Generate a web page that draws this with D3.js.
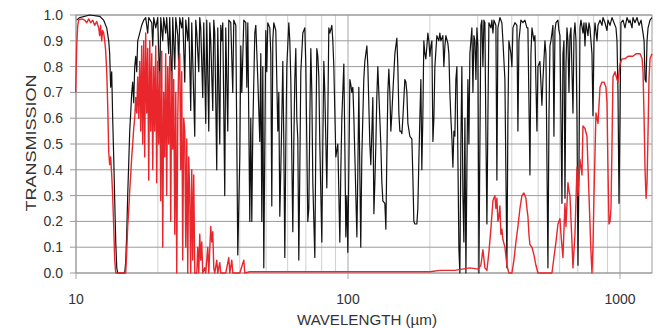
<!DOCTYPE html>
<html>
<head>
<meta charset="utf-8">
<script src="https://cdn.jsdelivr.net/npm/d3@7"></script>
<style>
  body { margin: 0; background: #fff; }
  text { font-family: "Liberation Sans", Arial, sans-serif; fill: #333; }
</style>
</head>
<body>
<svg id="chart" width="658" height="328"></svg>
<script>
// axis ticks
const yTicks = [0, 0.1, 0.2, 0.3, 0.4, 0.5, 0.6, 0.7, 0.8, 0.9, 1.0]
const xLabels = [10, 100, 1000]
const xGrid = [10, 20, 30, 40, 50, 60, 70, 80, 90, 100, 200, 300, 400, 500, 600, 700, 800, 900, 1000]

// black curve: wavelength (um) / transmission
const blackWl = [10.06, 10.32, 11.23, 12.22, 12.64, 12.97, 13.19, 13.30, 13.41, 13.53, 13.64, 13.76, 13.88, 14.00, 14.12, 14.24,
  15.10, 15.23, 15.36, 15.49, 15.62, 15.76, 15.89, 16.03, 16.16, 16.30, 16.44, 16.58, 16.72, 16.86, 17.15, 17.44, 17.74, 18.04,
  18.35, 18.51, 18.99, 19.15, 19.31, 19.64, 19.97, 20.32, 20.49, 20.84, 21.01, 21.37, 21.55, 21.92, 22.11, 22.49, 22.68, 23.07,
  23.27, 23.67, 23.86, 24.06, 24.47, 24.68, 25.11, 25.32, 25.75, 25.97, 26.41, 26.64, 27.33, 27.56, 27.80, 28.27, 28.51, 28.75,
  29.24, 29.49, 29.99, 30.25, 30.77, 31.03, 31.29, 31.83, 32.10, 32.37, 32.92, 33.20, 33.77, 34.06, 34.35, 34.64, 35.23, 35.53,
  36.14, 36.45, 37.07, 37.70, 38.02, 38.68, 39.34, 40.01, 40.35, 40.69, 41.39, 42.10, 42.46, 42.82, 43.54, 43.91, 44.29, 44.66,
  45.43, 45.82, 46.60, 47.39, 47.80, 48.20, 48.61, 49.02, 49.86, 50.28, 50.71, 51.58, 52.02, 52.46, 52.91, 53.36, 54.27, 55.20,
  55.67, 56.14, 56.62, 57.10, 57.59, 58.08, 58.57, 59.07, 59.57, 60.59, 61.10, 61.62, 62.67, 63.20, 63.74, 64.28, 64.83, 65.38,
  65.94, 66.50, 67.07, 68.21, 69.38, 69.97, 71.16, 71.77, 72.38, 73.00, 73.62, 74.24, 75.51, 76.15, 76.80, 77.45, 78.11, 78.78,
  80.12, 80.80, 81.49, 82.18, 83.58, 84.29, 85.01, 85.74, 87.20, 87.94, 88.69, 90.21, 91.75, 93.32, 94.11, 94.91, 96.53, 97.35,
  98.18, 99.01, 99.85, 100.7, 101.6, 102.4, 103.3, 104.2, 105.1, 106.0, 107.8, 108.7, 109.6, 110.5, 111.4, 112.4, 114.3, 115.3,
  117.3, 118.3, 120.3, 121.3, 122.4, 123.4, 124.5, 125.5, 126.6, 127.6, 128.7, 129.8, 132.0, 133.2, 134.3, 136.6, 137.8, 138.9,
  140.1, 141.3, 142.5, 143.7, 145.0, 146.2, 148.7, 151.2, 152.5, 153.8, 155.1, 156.4, 157.8, 159.1, 161.8, 163.2, 164.6, 166.0,
  168.8, 171.7, 173.2, 174.6, 176.1, 179.1, 180.6, 182.2, 183.7, 185.3, 186.8, 188.4, 190.0, 191.7, 193.3, 195.0, 196.6, 198.3,
  200.0, 201.7, 203.4, 205.2, 206.9, 208.6, 212.2, 215.8, 217.6, 219.5, 223.2, 225.1, 227.1, 229.0, 232.9, 234.9, 236.9, 238.9,
  241.0, 243.0, 245.1, 247.1, 249.2, 251.4, 253.5, 255.7, 257.8, 260.0, 262.2, 264.5, 266.7, 269.0, 271.3, 273.6, 275.9, 278.3,
  280.6, 283.0, 285.4, 287.9, 290.3, 292.8, 295.3, 297.8, 300.3, 302.9, 305.4, 308.0, 310.6, 313.3, 316.0, 318.6, 321.3, 324.1,
  326.8, 329.6, 335.2, 338.1, 341.0, 343.9, 349.7, 352.7, 355.7, 361.8, 367.9, 371.1, 377.4, 383.9, 387.1, 390.4, 397.1, 400.5,
  403.9, 410.8, 417.8, 421.4, 425.0, 432.2, 439.6, 447.1, 454.8, 458.6, 466.5, 470.5, 474.5, 482.6, 486.7, 495.0, 499.2, 507.7,
  516.4, 520.8, 529.7, 534.2, 543.3, 548.0, 552.6, 557.3, 566.8, 571.6, 576.5, 581.4, 591.3, 596.3, 601.5, 606.6, 611.7, 616.9,
  622.2, 627.5, 632.8, 638.2, 643.6, 649.1, 654.6, 660.2, 671.5, 677.2, 683.0, 688.8, 694.7, 700.6, 706.5, 712.5, 718.6, 730.9,
  737.1, 743.4, 749.7, 762.5, 769.0, 775.5, 788.7, 795.4, 802.2, 809.1, 822.9, 829.9, 844.1, 858.5, 865.8, 880.6, 895.6, 903.2,
  918.7, 934.4, 950.3, 966.6, 974.8, 983.1, 991.5, 1000, 1008, 1026, 1043, 1061, 1079, 1088, 1107, 1116, 1135, 1155, 1175, 1195,
  1215, 1226, 1236, 1247, 1257, 1268, 1289, 1311]
const blackT = [0.98, 0.99, 1.0, 0.995, 0.98, 0.95, 0.9, 0.85, 0.72, 0.78, 0.6, 0.45, 0.28, 0.12, 0.02, 0.0,
  0.0, 0.04, 0.15, 0.3, 0.42, 0.55, 0.62, 0.7, 0.74, 0.66, 0.8, 0.84, 0.78, 0.9, 0.93, 0.96, 0.98, 0.99,
  0.93, 0.99, 0.97, 0.88, 0.99, 0.95, 0.99, 0.72, 0.99, 0.9, 0.99, 0.93, 0.99, 0.85, 0.99, 0.7, 0.99, 0.79,
  0.99, 0.92, 0.8, 0.99, 0.95, 0.99, 0.74, 0.98, 0.9, 0.99, 0.63, 0.97, 0.53, 0.98, 0.93, 0.78, 0.99, 0.95,
  0.68, 0.97, 0.58, 0.98, 0.55, 0.97, 0.9, 0.63, 0.98, 0.93, 0.4, 0.95, 0.5, 0.96, 0.9, 0.97, 0.3, 0.95,
  0.55, 0.98, 0.97, 0.7, 0.98, 0.96, 0.07, 0.45, 0.88, 0.7, 0.98, 0.97, 0.72, 0.97, 0.2, 0.6, 0.2, 0.55,
  0.93, 0.96, 0.75, 0.51, 0.85, 0.2, 0.8, 0.02, 0.94, 0.78, 0.97, 0.95, 0.85, 0.26, 0.9, 0.97, 0.94, 0.55,
  0.7, 0.22, 0.4, 0.6, 0.82, 0.5, 0.06, 0.5, 0.8, 0.97, 0.9, 0.75, 0.16, 0.5, 0.75, 0.87, 0.6, 0.52,
  0.05, 0.4, 0.78, 0.93, 0.95, 0.8, 0.2, 0.25, 0.6, 0.87, 0.7, 0.35, 0.06, 0.5, 0.87, 0.84, 0.76, 0.5,
  0.12, 0.5, 0.82, 0.7, 0.33, 0.6, 0.95, 0.93, 0.96, 0.9, 0.8, 0.45, 0.5, 0.12, 0.4, 0.6, 0.81, 0.5,
  0.14, 0.3, 0.08, 0.4, 0.75, 0.73, 0.7, 0.72, 0.6, 0.45, 0.14, 0.4, 0.72, 0.4, 0.1, 0.45, 0.75, 0.82,
  0.88, 0.8, 0.5, 0.42, 0.55, 0.68, 0.23, 0.35, 0.5, 0.68, 0.8, 0.7, 0.5, 0.35, 0.28, 0.27, 0.17, 0.45,
  0.7, 0.79, 0.7, 0.55, 0.62, 0.7, 0.85, 0.91, 0.8, 0.62, 0.55, 0.55, 0.54, 0.6, 0.75, 0.74, 0.7, 0.58,
  0.53, 0.52, 0.37, 0.2, 0.19, 0.19, 0.25, 0.44, 0.6, 0.75, 0.4, 0.6, 0.9, 0.85, 0.83, 0.88, 0.93, 0.9,
  0.84, 0.88, 0.9, 0.51, 0.6, 0.8, 0.92, 0.9, 0.93, 0.9, 0.92, 0.8, 0.88, 0.92, 0.89, 0.85, 0.7, 0.6,
  0.52, 0.41, 0.55, 0.53, 0.75, 0.8, 0.45, 0.09, 0.0, 0.5, 0.8, 0.3, 0.12, 0.6, 0.0, 0.4, 0.75, 0.5,
  0.85, 0.9, 0.95, 0.7, 0.92, 0.9, 0.75, 0.95, 0.88, 0.0, 0.5, 0.96, 0.98, 0.8, 0.98, 0.97, 0.55, 0.19,
  0.6, 0.97, 0.95, 0.98, 0.93, 0.98, 0.96, 0.36, 0.95, 0.99, 0.97, 0.9, 0.75, 0.02, 0.6, 0.9, 0.85, 0.8,
  0.95, 0.97, 0.96, 0.55, 0.9, 0.98, 0.97, 0.98, 0.95, 0.95, 0.38, 0.85, 0.95, 0.9, 0.92, 0.55, 0.8, 0.82,
  0.65, 0.75, 0.9, 0.85, 0.02, 0.6, 0.88, 0.9, 0.96, 0.53, 0.94, 0.97, 0.98, 0.94, 0.92, 0.6, 0.27, 0.85,
  0.9, 0.29, 0.8, 0.95, 0.9, 0.7, 0.92, 0.95, 0.62, 0.92, 0.97, 0.9, 0.6, 0.03, 0.4, 0.95, 0.98, 0.93,
  0.97, 0.88, 0.97, 0.92, 0.97, 0.95, 0.85, 0.61, 0.9, 0.97, 0.9, 0.96, 0.98, 0.96, 0.99, 0.97, 0.94, 0.98,
  0.96, 0.99, 0.97, 0.95, 0.9, 0.7, 0.27, 0.6, 0.97, 0.98, 0.95, 0.99, 0.97, 0.98, 0.95, 0.99, 0.97, 0.99, 0.96, 0.98,
  0.93, 0.9, 0.75, 0.74, 0.9, 0.95, 0.98, 0.99]

// red curve: wavelength (um) / transmission
const redWl = [9.97, 10.06, 10.15, 10.23, 10.49, 10.77, 10.95, 11.14, 11.32, 11.52, 11.71, 11.91, 12.12, 12.22, 12.32, 12.43,
  12.53, 12.64, 12.75, 12.86, 12.97, 13.08, 13.19, 13.30, 13.41, 13.53, 13.64, 13.76, 13.88, 14.00, 15.23, 15.36, 15.49, 15.62,
  15.76, 15.89, 16.03, 16.16, 16.30, 16.44, 16.58, 16.72, 16.86, 17.00, 17.15, 17.30, 17.44, 17.59, 17.74, 17.89, 18.04, 18.20,
  18.35, 18.51, 18.67, 18.83, 18.99, 19.15, 19.31, 19.47, 19.64, 19.80, 19.97, 20.14, 20.32, 20.49, 20.66, 20.84, 21.01, 21.19,
  21.37, 21.55, 21.74, 21.92, 22.11, 22.30, 22.49, 22.68, 22.87, 23.07, 23.27, 23.46, 23.67, 23.86, 24.06, 24.27, 24.47, 24.68,
  24.89, 25.11, 25.32, 25.54, 25.75, 25.97, 26.19, 26.41, 26.64, 26.86, 27.09, 27.33, 27.80, 28.03, 28.27, 28.51, 28.75, 29.00,
  29.24, 29.74, 29.99, 30.51, 30.77, 31.29, 31.56, 31.83, 32.10, 32.37, 32.92, 33.20, 33.77, 34.06, 35.53, 36.45, 36.76, 37.38,
  37.70, 40.01, 41.39, 41.74, 43.54, 200.0, 217.6, 247.1, 280.6, 300.3, 308.0, 313.3, 318.6, 324.1, 329.6, 335.2, 341.0, 346.8,
  349.7, 352.7, 355.7, 358.8, 361.8, 364.8, 367.9, 371.1, 377.4, 383.9, 390.4, 400.5, 407.4, 414.3, 421.4, 428.6, 435.9, 443.3,
  450.9, 454.8, 458.6, 462.5, 466.5, 474.5, 482.6, 490.8, 499.2, 562.0, 571.6, 581.4, 591.3, 601.5, 606.6, 616.9, 627.5, 632.8,
  643.6, 649.1, 654.6, 665.8, 671.5, 683.0, 694.7, 700.6, 712.5, 724.8, 730.9, 743.4, 756.0, 769.0, 782.1, 788.7, 795.4, 802.2,
  815.9, 822.9, 829.9, 844.1, 858.5, 873.2, 888.0, 895.6, 903.2, 910.9, 918.7, 926.5, 934.4, 942.3, 958.5, 974.8, 983.1, 1000,
  1017, 1043, 1070, 1088, 1116, 1145, 1165, 1185, 1206, 1215, 1226, 1236, 1247, 1257, 1268, 1278, 1289, 1311]
const redT = [0.7, 0.88, 0.96, 0.98, 0.985, 0.98, 0.97, 0.985, 0.97, 0.98, 0.96, 0.975, 0.95, 0.92, 0.96, 0.9,
  0.94, 0.93, 0.9, 0.86, 0.78, 0.65, 0.47, 0.42, 0.45, 0.38, 0.3, 0.18, 0.05, 0.0, 0.0, 0.08, 0.18, 0.24,
  0.32, 0.38, 0.45, 0.5, 0.56, 0.6, 0.68, 0.62, 0.76, 0.6, 0.82, 0.55, 0.88, 0.5, 0.9, 0.45, 0.93, 0.62,
  0.87, 0.36, 0.9, 0.55, 0.85, 0.4, 0.8, 0.55, 0.88, 0.35, 0.82, 0.5, 0.78, 0.28, 0.86, 0.1, 0.7, 0.45,
  0.85, 0.3, 0.8, 0.5, 0.84, 0.2, 0.78, 0.48, 0.75, 0.15, 0.7, 0.0, 0.6, 0.82, 0.85, 0.4, 0.78, 0.05,
  0.6, 0.55, 0.1, 0.52, 0.0, 0.45, 0.3, 0.0, 0.4, 0.05, 0.38, 0.0, 0.0, 0.1, 0.0, 0.15, 0.05, 0.12,
  0.0, 0.02, 0.0, 0.1, 0.0, 0.18, 0.12, 0.16, 0.02, 0.0, 0.05, 0.0, 0.04, 0.0, 0.0, 0.06, 0.0, 0.05,
  0.0, 0.0, 0.05, 0.0, 0.005, 0.005, 0.01, 0.01, 0.02, 0.015, 0.03, 0.09, 0.02, 0.01, 0.08, 0.17, 0.28, 0.3,
  0.25, 0.29, 0.2, 0.22, 0.26, 0.15, 0.17, 0.13, 0.1, 0.03, 0.0, 0.0, 0.05, 0.12, 0.18, 0.25, 0.3, 0.31,
  0.29, 0.25, 0.22, 0.15, 0.11, 0.1, 0.07, 0.03, 0.0, 0.0, 0.06, 0.12, 0.19, 0.21, 0.15, 0.06, 0.27, 0.18,
  0.35, 0.32, 0.3, 0.12, 0.02, 0.15, 0.41, 0.3, 0.44, 0.38, 0.57, 0.56, 0.53, 0.3, 0.08, 0.0, 0.1, 0.3,
  0.62, 0.6, 0.58, 0.72, 0.74, 0.74, 0.72, 0.66, 0.4, 0.19, 0.2, 0.25, 0.5, 0.76, 0.78, 0.75, 0.74, 0.81,
  0.83, 0.83, 0.84, 0.84, 0.84, 0.85, 0.85, 0.85, 0.83, 0.78, 0.6, 0.4, 0.29, 0.35, 0.55, 0.75, 0.83, 0.85]

const width = 658, height = 328
const margin = { top: 15, right: 6, bottom: 55, left: 76 }

const svg = d3.select('#chart')

const x = d3.scaleLog()
  .domain([10, 1311])
  .range([margin.left, width - margin.right])

const y = d3.scaleLinear()
  .domain([0, 1])
  .range([height - margin.bottom, margin.top])

// vertical grid (light)
svg.append('g')
  .selectAll('line')
  .data(xGrid)
  .enter()
  .append('line')
  .attr('x1', d => x(d)).attr('x2', d => x(d))
  .attr('y1', y(1)).attr('y2', d => xLabels.includes(d) ? y(0) + 6 : y(0))
  .attr('stroke', d => xLabels.includes(d) ? '#a8a8a8' : '#cfcfcf')
  .attr('stroke-width', 1)

// horizontal grid (darker), extends out as ticks
svg.append('g')
  .selectAll('line')
  .data(yTicks)
  .enter()
  .append('line')
  .attr('x1', margin.left - 6).attr('x2', width - margin.right)
  .attr('y1', d => y(d)).attr('y2', d => y(d))
  .attr('stroke', '#9a9a9a')
  .attr('stroke-width', 1)

// frame
svg.append('rect')
  .attr('x', margin.left).attr('y', margin.top)
  .attr('width', width - margin.right - margin.left)
  .attr('height', y(0) - margin.top)
  .attr('fill', 'none')
  .attr('stroke', '#9a9a9a')

const line = d3.line()
  .x(d => x(d[0]))
  .y(d => y(d[1]))

svg.append('path')
  .datum(blackWl.map((w, i) => [w, blackT[i]]))
  .attr('d', line)
  .attr('fill', 'none')
  .attr('stroke', '#111')
  .attr('stroke-width', 1.2)
  .attr('stroke-linejoin', 'round')

svg.append('path')
  .datum(redWl.map((w, i) => [w, redT[i]]))
  .attr('d', line)
  .attr('fill', 'none')
  .attr('stroke', '#e8262b')
  .attr('stroke-width', 1.4)
  .attr('stroke-linejoin', 'round')

// y tick labels
svg.append('g')
  .selectAll('text')
  .data(yTicks)
  .enter()
  .append('text')
  .attr('x', margin.left - 13)
  .attr('y', d => y(d) + 5)
  .attr('text-anchor', 'end')
  .style('font-size', '14px')
  .text(d => d.toFixed(1))

// x tick labels
svg.append('g')
  .selectAll('text')
  .data(xLabels)
  .enter()
  .append('text')
  .attr('x', d => x(d))
  .attr('y', 304)
  .attr('text-anchor', 'middle')
  .style('font-size', '14px')
  .text(d => d)

svg.append('text')
  .attr('x', 367)
  .attr('y', 325)
  .attr('text-anchor', 'middle')
  .attr('textLength', 140)
  .attr('lengthAdjust', 'spacingAndGlyphs')
  .style('font-size', '15px')
  .text('WAVELENGTH (\u00b5m)')

svg.append('text')
  .attr('transform', 'translate(36,143) rotate(-90)')
  .attr('text-anchor', 'middle')
  .attr('textLength', 137)
  .attr('lengthAdjust', 'spacingAndGlyphs')
  .style('font-size', '15px')
  .text('TRANSMISSION')
</script>
</body>
</html>
